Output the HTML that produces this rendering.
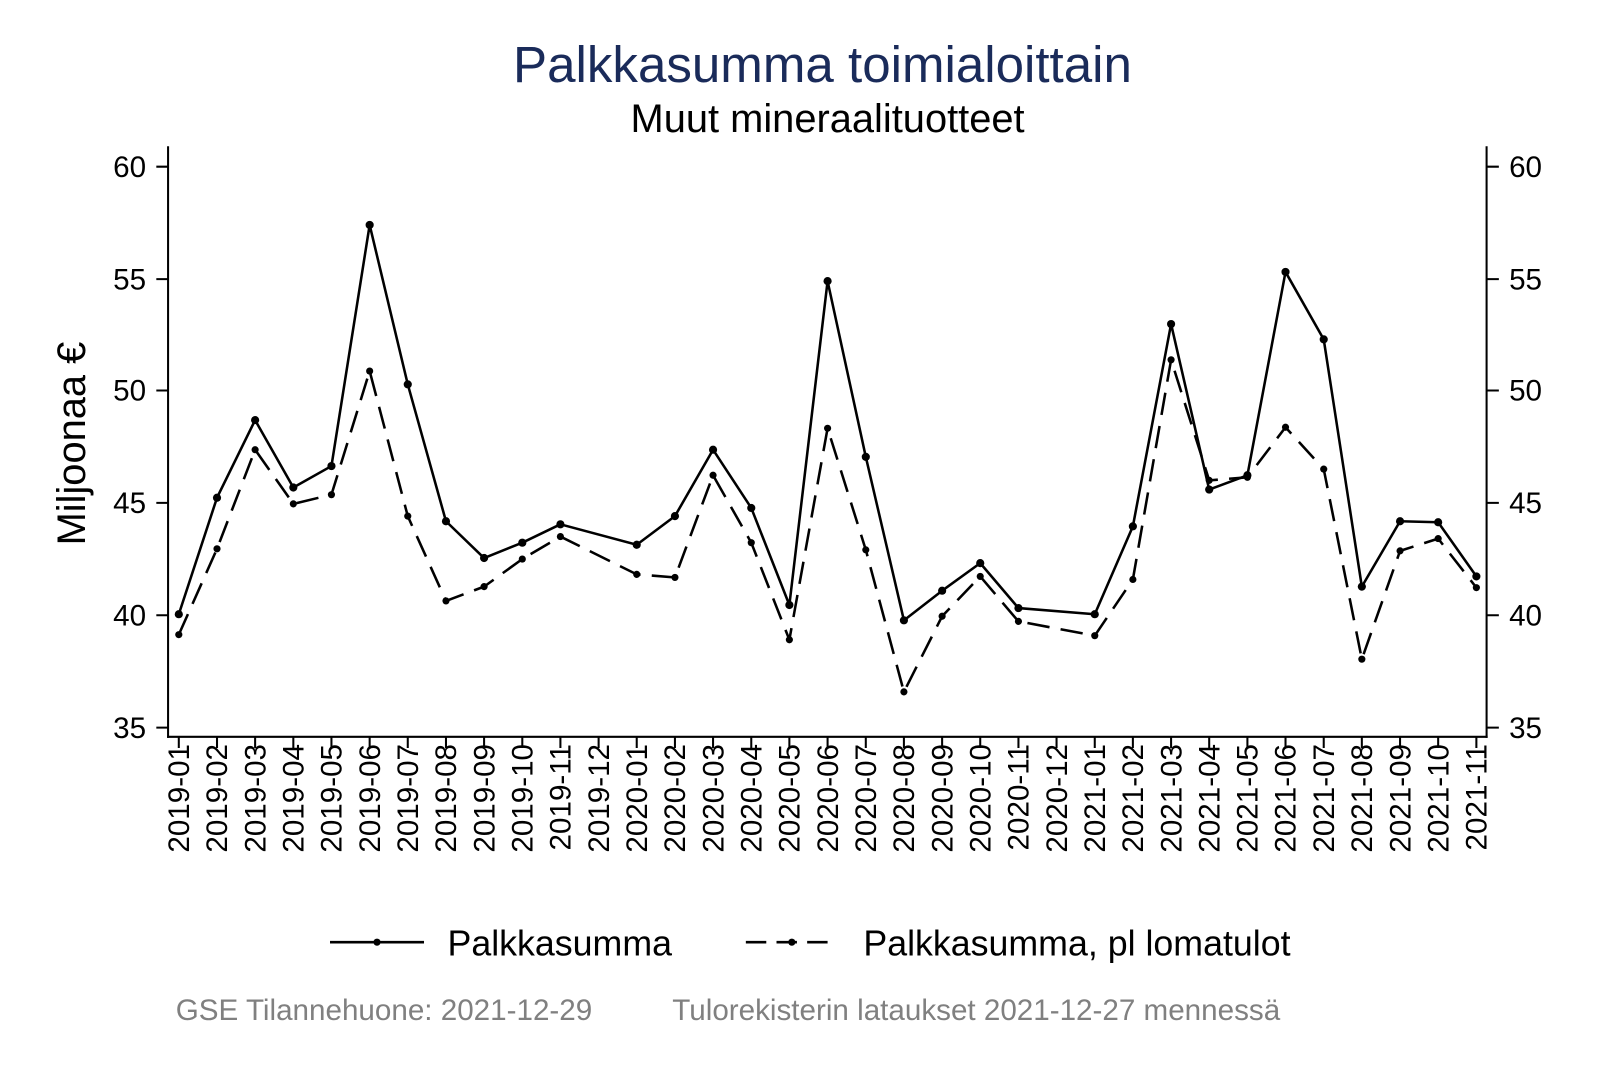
<!DOCTYPE html>
<html><head><meta charset="utf-8"><style>html,body{margin:0;padding:0;background:#fff}svg{display:block}</style></head>
<body>
<svg xmlns="http://www.w3.org/2000/svg" width="1600" height="1067" viewBox="0 0 1566 1044" font-family="Liberation Sans, Arial, sans-serif">
<rect width="1566" height="1044" fill="#fff"/>
<text x="805" y="80" font-size="50" text-anchor="middle" fill="#1a2b5a">Palkkasumma toimialoittain</text>
<text x="810" y="129" font-size="39" text-anchor="middle" fill="#000">Muut mineraalituotteet</text>
<text transform="translate(83,434) rotate(-90)" font-size="39" text-anchor="middle">Miljoonaa €</text>
<g stroke="#000" stroke-width="2" fill="none">
<line x1="164.5" y1="143" x2="164.5" y2="722"/>
<line x1="1455" y1="143" x2="1455" y2="722"/>
<line x1="163.5" y1="721" x2="1456" y2="721"/>
<path d="M153 163H165M153 273H165M153 382H165M153 492H165M153 602H165M153 712H165M1455 163H1467M1455 273H1467M1455 382H1467M1455 492H1467M1455 602H1467M1455 712H1467"/>
<path d="M175 721v11M212.4 721v11M249.7 721v11M287.1 721v11M324.4 721v11M361.8 721v11M399.1 721v11M436.5 721v11M473.8 721v11M511.2 721v11M548.5 721v11M585.9 721v11M623.2 721v11M660.6 721v11M697.9 721v11M735.3 721v11M772.6 721v11M810 721v11M847.4 721v11M884.7 721v11M922.1 721v11M959.4 721v11M996.8 721v11M1034.1 721v11M1071.5 721v11M1108.8 721v11M1146.2 721v11M1183.5 721v11M1220.9 721v11M1258.2 721v11M1295.6 721v11M1332.9 721v11M1370.3 721v11M1407.6 721v11M1445 721v11"/>
</g>
<g font-size="29" text-anchor="end">
<text x="143" y="173">60</text><text x="143" y="283">55</text><text x="143" y="392">50</text><text x="143" y="502">45</text><text x="143" y="612">40</text><text x="143" y="722">35</text>
</g>
<g font-size="29" text-anchor="start">
<text x="1477" y="173">60</text><text x="1477" y="283">55</text><text x="1477" y="392">50</text><text x="1477" y="502">45</text><text x="1477" y="612">40</text><text x="1477" y="722">35</text>
</g>
<g font-size="29" text-anchor="end">
<text transform="translate(185,728) rotate(-90)">2019-01</text>
<text transform="translate(222.4,728) rotate(-90)">2019-02</text>
<text transform="translate(259.7,728) rotate(-90)">2019-03</text>
<text transform="translate(297.1,728) rotate(-90)">2019-04</text>
<text transform="translate(334.4,728) rotate(-90)">2019-05</text>
<text transform="translate(371.8,728) rotate(-90)">2019-06</text>
<text transform="translate(409.1,728) rotate(-90)">2019-07</text>
<text transform="translate(446.5,728) rotate(-90)">2019-08</text>
<text transform="translate(483.8,728) rotate(-90)">2019-09</text>
<text transform="translate(521.2,728) rotate(-90)">2019-10</text>
<text transform="translate(558.5,728) rotate(-90)">2019-11</text>
<text transform="translate(595.9,728) rotate(-90)">2019-12</text>
<text transform="translate(633.2,728) rotate(-90)">2020-01</text>
<text transform="translate(670.6,728) rotate(-90)">2020-02</text>
<text transform="translate(707.9,728) rotate(-90)">2020-03</text>
<text transform="translate(745.3,728) rotate(-90)">2020-04</text>
<text transform="translate(782.6,728) rotate(-90)">2020-05</text>
<text transform="translate(820,728) rotate(-90)">2020-06</text>
<text transform="translate(857.4,728) rotate(-90)">2020-07</text>
<text transform="translate(894.7,728) rotate(-90)">2020-08</text>
<text transform="translate(932.1,728) rotate(-90)">2020-09</text>
<text transform="translate(969.4,728) rotate(-90)">2020-10</text>
<text transform="translate(1006.8,728) rotate(-90)">2020-11</text>
<text transform="translate(1044.1,728) rotate(-90)">2020-12</text>
<text transform="translate(1081.5,728) rotate(-90)">2021-01</text>
<text transform="translate(1118.8,728) rotate(-90)">2021-02</text>
<text transform="translate(1156.2,728) rotate(-90)">2021-03</text>
<text transform="translate(1193.5,728) rotate(-90)">2021-04</text>
<text transform="translate(1230.9,728) rotate(-90)">2021-05</text>
<text transform="translate(1268.2,728) rotate(-90)">2021-06</text>
<text transform="translate(1305.6,728) rotate(-90)">2021-07</text>
<text transform="translate(1342.9,728) rotate(-90)">2021-08</text>
<text transform="translate(1380.3,728) rotate(-90)">2021-09</text>
<text transform="translate(1417.6,728) rotate(-90)">2021-10</text>
<text transform="translate(1455,728) rotate(-90)">2021-11</text>
</g>
<g fill="none" stroke="#000" stroke-width="2.5" stroke-linejoin="round">
<polyline points="175,601 212.4,487 249.7,411 287.1,477 324.4,456 361.8,220 399.1,376 436.5,510 473.8,546 511.2,531 548.5,513 623.2,533 660.6,505 697.9,440 735.3,497 772.6,592 810,275 847.4,447 884.7,607 922.1,578 959.4,551 996.8,595 1071.5,601 1108.8,515 1146.2,317 1183.5,479 1220.9,465 1258.2,266 1295.6,332 1332.9,574 1370.3,510 1407.6,511 1445,564"/>
<polyline stroke-dasharray="22,11" points="175,621 212.4,537 249.7,440 287.1,493 324.4,484 361.8,363 399.1,505 436.5,588 473.8,574 511.2,547 548.5,525 623.2,562 660.6,565 697.9,465 735.3,531 772.6,626 810,419 847.4,538 884.7,677 922.1,603 959.4,564 996.8,608 1071.5,622 1108.8,567 1146.2,352 1183.5,470 1220.9,467 1258.2,418 1295.6,459 1332.9,645 1370.3,539 1407.6,527 1445,575"/>
</g>
<g fill="#000">
<circle cx="175" cy="601" r="4"/><circle cx="212.4" cy="487" r="4"/><circle cx="249.7" cy="411" r="4"/><circle cx="287.1" cy="477" r="4"/><circle cx="324.4" cy="456" r="4"/><circle cx="361.8" cy="220" r="4"/><circle cx="399.1" cy="376" r="4"/><circle cx="436.5" cy="510" r="4"/><circle cx="473.8" cy="546" r="4"/><circle cx="511.2" cy="531" r="4"/><circle cx="548.5" cy="513" r="4"/><circle cx="623.2" cy="533" r="4"/><circle cx="660.6" cy="505" r="4"/><circle cx="697.9" cy="440" r="4"/><circle cx="735.3" cy="497" r="4"/><circle cx="772.6" cy="592" r="4"/><circle cx="810" cy="275" r="4"/><circle cx="847.4" cy="447" r="4"/><circle cx="884.7" cy="607" r="4"/><circle cx="922.1" cy="578" r="4"/><circle cx="959.4" cy="551" r="4"/><circle cx="996.8" cy="595" r="4"/><circle cx="1071.5" cy="601" r="4"/><circle cx="1108.8" cy="515" r="4"/><circle cx="1146.2" cy="317" r="4"/><circle cx="1183.5" cy="479" r="4"/><circle cx="1220.9" cy="465" r="4"/><circle cx="1258.2" cy="266" r="4"/><circle cx="1295.6" cy="332" r="4"/><circle cx="1332.9" cy="574" r="4"/><circle cx="1370.3" cy="510" r="4"/><circle cx="1407.6" cy="511" r="4"/><circle cx="1445" cy="564" r="4"/>
<circle cx="175" cy="621" r="3.5"/><circle cx="212.4" cy="537" r="3.5"/><circle cx="249.7" cy="440" r="3.5"/><circle cx="287.1" cy="493" r="3.5"/><circle cx="324.4" cy="484" r="3.5"/><circle cx="361.8" cy="363" r="3.5"/><circle cx="399.1" cy="505" r="3.5"/><circle cx="436.5" cy="588" r="3.5"/><circle cx="473.8" cy="574" r="3.5"/><circle cx="511.2" cy="547" r="3.5"/><circle cx="548.5" cy="525" r="3.5"/><circle cx="623.2" cy="562" r="3.5"/><circle cx="660.6" cy="565" r="3.5"/><circle cx="697.9" cy="465" r="3.5"/><circle cx="735.3" cy="531" r="3.5"/><circle cx="772.6" cy="626" r="3.5"/><circle cx="810" cy="419" r="3.5"/><circle cx="847.4" cy="538" r="3.5"/><circle cx="884.7" cy="677" r="3.5"/><circle cx="922.1" cy="603" r="3.5"/><circle cx="959.4" cy="564" r="3.5"/><circle cx="996.8" cy="608" r="3.5"/><circle cx="1071.5" cy="622" r="3.5"/><circle cx="1108.8" cy="567" r="3.5"/><circle cx="1146.2" cy="352" r="3.5"/><circle cx="1183.5" cy="470" r="3.5"/><circle cx="1220.9" cy="467" r="3.5"/><circle cx="1258.2" cy="418" r="3.5"/><circle cx="1295.6" cy="459" r="3.5"/><circle cx="1332.9" cy="645" r="3.5"/><circle cx="1370.3" cy="539" r="3.5"/><circle cx="1407.6" cy="527" r="3.5"/><circle cx="1445" cy="575" r="3.5"/>
</g>
<g stroke="#000" stroke-width="2.5">
<line x1="323" y1="922" x2="415" y2="922"/>
<line x1="730" y1="922" x2="820" y2="922" stroke-dasharray="20,10"/>
</g>
<circle cx="369" cy="922" r="3.5"/><circle cx="775" cy="922" r="3.5"/>
<text x="438" y="935" font-size="35">Palkkasumma</text>
<text x="845" y="935" font-size="35">Palkkasumma, pl lomatulot</text>
<g font-size="29" fill="#808080">
<text x="172" y="998">GSE Tilannehuone: 2021-12-29</text>
<text x="658" y="998">Tulorekisterin lataukset 2021-12-27 mennessä</text>
</g>
</svg>
</body></html>
